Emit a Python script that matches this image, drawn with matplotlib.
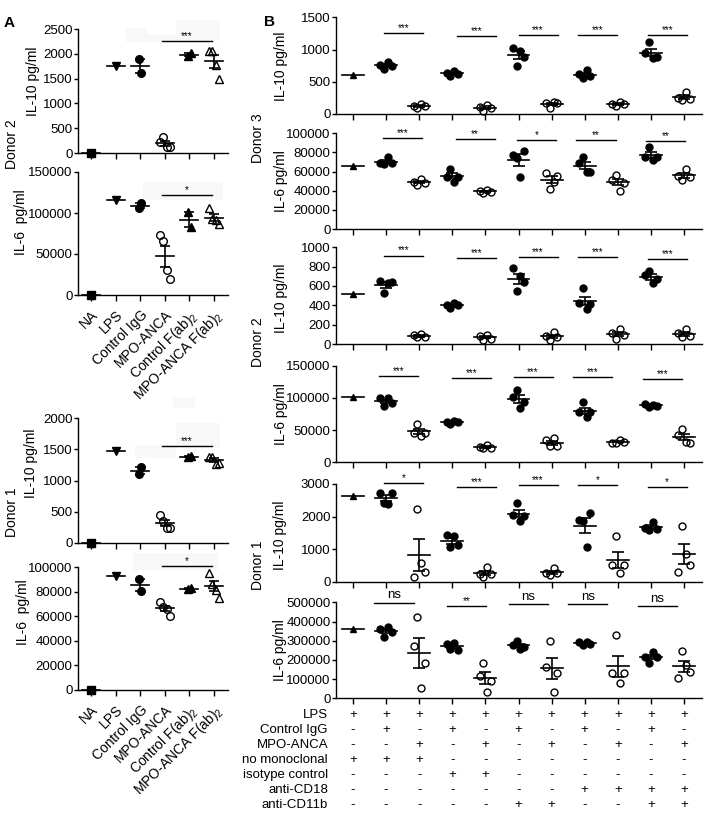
import numpy as np
import matplotlib
matplotlib.use("Agg")
import matplotlib.pyplot as plt
from matplotlib.patches import Rectangle
from matplotlib.transforms import blended_transform_factory

plt.rcParams['font.family'] = ['Liberation Sans', 'DejaVu Sans']
plt.rcParams['font.size'] = 9

# ---------------- panel A data ----------------
a_groups = ["NA", "LPS", "Control IgG", "MPO-ANCA",
            r"Control F(ab)$_\mathregular{2}$", r"MPO-ANCA F(ab)$_\mathregular{2}$"]
a_markers = ["s", "v", "o", "o", "^", "^"]
a_filled = [True, True, True, False, True, False]

a_d2_il10 = [[0], [1760], [1890, 1620], [220, 320, 120, 125], [1960, 2010], [2060, 2060, 1780, 1490]]
a_d2_il6 = [[0], [116000], [106000, 112000], [73000, 66000, 30000, 20000], [101000, 83000],
            [106000, 93000, 91000, 86000]]
a_d1_il10 = [[0], [1480], [1100, 1210], [450, 350, 230, 230], [1370, 1400], [1380, 1380, 1270, 1280]]
a_d1_il6 = [[0], [93000], [90500, 80500], [71500, 67500, 66000, 60500], [82000, 83000],
            [95000, 86000, 81500, 75000]]
a_sig_y = [2260, 121500, 1560, 101000]
a_sig_txt = ["***", "*", "***", "*"]

# ---------------- panel B data ----------------
b_d3_il10 = [[600], [760, 700, 810, 750], [125, 90, 155, 125], [640, 590, 670, 620],
             [115, 40, 140, 90], [1030, 750, 980, 880], [175, 90, 185, 165],
             [620, 555, 685, 590], [155, 125, 190, 150], [940, 1110, 865, 880],
             [255, 215, 345, 230]]
b_d3_il6 = [[65500], [68700, 68000, 75600, 68700], [49500, 46000, 52000, 48500],
            [54800, 62800, 49600, 54800], [40200, 38100, 40900, 39100],
            [77400, 73900, 54100, 81900], [58300, 41600, 49600, 55800],
            [68700, 74900, 60000, 60000], [51300, 56500, 40200, 47800],
            [75700, 85400, 72200, 75700], [55500, 51300, 62400, 54800]]
b_d2_il10 = [[515], [650, 525, 630, 640], [90, 70, 105, 70], [400, 370, 425, 400],
             [80, 45, 95, 55], [785, 545, 700, 645], [80, 45, 125, 70],
             [425, 575, 365, 410], [115, 55, 160, 95], [710, 755, 630, 675],
             [115, 70, 160, 80]]
b_d2_il6 = [[101500], [99300, 87900, 99300, 91600], [46000, 59000, 41000, 46000],
            [62100, 59000, 64100, 62100], [24300, 21700, 26900, 21700],
            [101900, 112300, 84800, 93100], [34700, 25300, 37200, 25300],
            [78600, 93100, 70900, 77600], [30500, 30500, 34700, 32100],
            [90000, 86400, 89000, 88000], [43000, 51000, 32000, 30000]]
b_d1_il10 = [[2630], [2730, 2420, 2400, 2720], [155, 2230, 585, 305],
             [1430, 1075, 1400, 1125], [235, 155, 440, 235], [2045, 2405, 1875, 2015],
             [275, 205, 430, 275], [1895, 1850, 1055, 2100], [510, 1400, 275, 510],
             [1640, 1590, 1840, 1605], [305, 1720, 850, 510]]
b_d1_il6 = [[359000], [362600, 321000, 369500, 347000], [272000, 425000, 52000, 185000],
            [285000, 255000, 290000, 250000], [116000, 182000, 34500, 92000],
            [277600, 300000, 255000, 268700], [164600, 300000, 34500, 130000],
            [295000, 277600, 295000, 283000], [130000, 330000, 78000, 130000],
            [217000, 185000, 243000, 213500], [104000, 248000, 173000, 138500]]

b_sig_y = [[1250, 1210, 1230, 1230, 1230],
           [94800, 93700, 93000, 93000, 92300],
           [915, 887, 900, 900, 883],
           [134000, 130400, 132400, 132400, 129800],
           [3020, 2917, 2968, 2968, 2917],
           [498000, 482000, 491000, 491000, 481000]]
b_sig_txt = [["***"] * 5,
             ["***", "**", "*", "**", "**"],
             ["***"] * 5,
             ["***"] * 5,
             ["*", "***", "***", "*", "*"],
             ["ns", "**", "ns", "ns", "ns"]]

tbl_rows = ["LPS", "Control IgG", "MPO-ANCA", "no monoclonal", "isotype control",
            "anti-CD18", "anti-CD11b"]
tbl_vals = ["+++++++++++",
            "-+-+-+-+-+-",
            "--+-+-+-+-+",
            "+++--------",
            "---++------",
            "-------++++",
            "-----++--++"]

# ---------------- figure ----------------
W, H = 707, 831
fig = plt.figure(figsize=(W / 100, H / 100), dpi=100)


def px_axes(l, t, r, b):
    return fig.add_axes([l / W, 1 - b / H, (r - l) / W, (b - t) / H])


# faint grey patches left over in the original image
for (l, t, r, b) in [(126, 28, 147, 42), (176, 20, 220, 41), (147, 34, 176, 42),
                     (143, 182, 223, 200), (173, 398, 195, 408), (176, 423, 220, 447),
                     (135, 445, 176, 458), (133, 553, 218, 570)]:
    fig.add_artist(Rectangle((l / W, 1 - b / H), (r - l) / W, (b - t) / H,
                             transform=fig.transFigure, color="#f8f8f8", lw=0, zorder=0))


def style(ax, ylim, yticks, xlim, xticks):
    for s in ["top", "right"]:
        ax.spines[s].set_visible(False)
    for s in ["left", "bottom"]:
        ax.spines[s].set_linewidth(1.0)
    ax.set_ylim(*ylim)
    ax.set_yticks(yticks)
    ax.set_xlim(*xlim)
    ax.set_xticks(xticks)
    ax.tick_params(axis="y", direction="out", length=3, width=1.0, pad=1, labelsize=9.5)
    ax.tick_params(axis="x", direction="out", length=4, width=1.0, labelbottom=False)
    ax.patch.set_alpha(0)


def draw_group(ax, x, vals, marker, filled, ms, half, cap, offs):
    vals = np.asarray(vals, float)
    n = len(vals)
    ax.plot(x + np.asarray(offs[n]), vals, ls="none", marker=marker, ms=ms,
            mfc="black" if filled else "none", mec="black", mew=1.0,
            clip_on=False, zorder=3)
    m = vals.mean()
    ax.plot([x - half, x + half], [m, m], color="black", lw=1.2, zorder=4, clip_on=False)
    if n > 1:
        sem = vals.std(ddof=1) / np.sqrt(n)
        ax.errorbar(x, m, yerr=sem, fmt="none", ecolor="black", elinewidth=1.2,
                    capsize=cap, capthick=1.2, zorder=4)


def sig(ax, x0, x1, y, label):
    ax.plot([x0, x1], [y, y], color="black", lw=1.0, clip_on=False)
    fs = 9.5 if label == "ns" else 7
    ax.annotate(label, xy=((x0 + x1) / 2, y), xytext=(0, 1 if label == "ns" else 0),
                textcoords="offset points", ha="center", va="bottom", fontsize=fs,
                annotation_clip=False)


# ---- panel A ----
a_offs = {1: [0], 2: [-0.05, 0.05], 4: [-0.2, -0.07, 0.07, 0.2]}
a_boxes = [(29, 153), (172, 295), (418.3, 542.7), (567, 690)]
a_data = [a_d2_il10, a_d2_il6, a_d1_il10, a_d1_il6]
a_lims = [(0, 2500, 500), (0, 150000, 50000), (0, 2000, 500), (0, 100000, 20000)]
a_xlim = (-0.53, 5.57)
ax_a = []
for k in range(4):
    t, b = a_boxes[k]
    ax = px_axes(78, t, 228, b)
    lo, hi, st = a_lims[k]
    style(ax, (lo, hi), np.arange(lo, hi + 1, st), a_xlim, range(6))
    for i, vals in enumerate(a_data[k]):
        draw_group(ax, i, vals, a_markers[i], a_filled[i], 5.5, 0.37, 3.5, a_offs)
    sig(ax, 2.88, 4.92, a_sig_y[k], a_sig_txt[k])
    if k in (1, 3):
        ax.tick_params(axis="x", labelbottom=True, labelsize=10, pad=5)
        ax.set_xticklabels(a_groups, rotation=45, ha="right", va="top",
                           rotation_mode="anchor")
    ax_a.append(ax)

# ---- panel B ----
b_offs = {1: [0], 4: [-0.17, -0.06, 0.06, 0.17]}
b_boxes = [(17.3, 114), (133.3, 229), (247.3, 344), (365.7, 462.3), (484, 581.7), (602.3, 698.3)]
b_data = [b_d3_il10, b_d3_il6, b_d2_il10, b_d2_il6, b_d1_il10, b_d1_il6]
b_lims = [(0, 1500, 500), (0, 100000, 20000), (0, 1000, 200), (0, 150000, 50000),
          (0, 3000, 1000), (0, 500000, 100000)]
b_xlim = (-0.51, 10.54)
bar_start = [0.95, 3.15, 5.0, 6.8, 8.9]
bar_shift = [0, -0.05, 0, -0.15, 0, -0.3]
ax_b = []
for k in range(6):
    t, b = b_boxes[k]
    ax = px_axes(336, t, 702, b)
    lo, hi, st = b_lims[k]
    style(ax, (lo, hi), np.arange(lo, hi + 1, st), b_xlim, range(11))
    for i, vals in enumerate(b_data[k]):
        if i == 0:
            mk, fl = "^", True
        else:
            mk, fl = "o", (i % 2 == 1)
        draw_group(ax, i, vals, mk, fl, 5, 0.33, 4.5, b_offs)
    for j in range(5):
        x0 = bar_start[j] + bar_shift[k]
        sig(ax, x0, x0 + 1.18, b_sig_y[k][j], b_sig_txt[k][j])
    ax_b.append(ax)

# ---- axis labels ----
def ylab(x, y, s):
    fig.text(x / W, 1 - y / H, s, rotation=90, ha="center", va="center", fontsize=10)

ylab(33, 81, "IL-10 pg/ml")
ylab(21, 222, "IL-6  pg/ml")
ylab(12, 144, "Donor 2")
ylab(31, 463, "IL-10 pg/ml")
ylab(23, 612, "IL-6  pg/ml")
ylab(12, 512, "Donor 1")

ylab(281, 66, "IL-10 pg/ml")
ylab(281, 181, "IL-6 pg/ml")
ylab(281, 298, "IL-10 pg/ml")
ylab(281, 414, "IL-6 pg/ml")
ylab(280, 535, "IL-10 pg/ml")
ylab(280, 650, "IL-6 pg/ml")
ylab(258, 138, "Donor 3")
ylab(258, 342, "Donor 2")
ylab(258, 565, "Donor 1")

fig.text(4 / W, 1 - 23 / H, "A", fontsize=11, fontweight="bold", va="center")
fig.text(264 / W, 1 - 22 / H, "B", fontsize=11, fontweight="bold", va="center")

# ---- treatment table ----
tr = blended_transform_factory(ax_b[5].transData, fig.transFigure)
row_y = [715, 730, 745, 760, 775, 790, 805]
for r, name in enumerate(tbl_rows):
    yy = 1 - row_y[r] / H
    fig.text(328 / W, yy, name, ha="right", va="center", fontsize=9.5)
    for i, ch in enumerate(tbl_vals[r]):
        ax_b[5].text(i, yy, ch, transform=tr, ha="center", va="center", fontsize=9.5)

fig.savefig("out.png", dpi=100)
